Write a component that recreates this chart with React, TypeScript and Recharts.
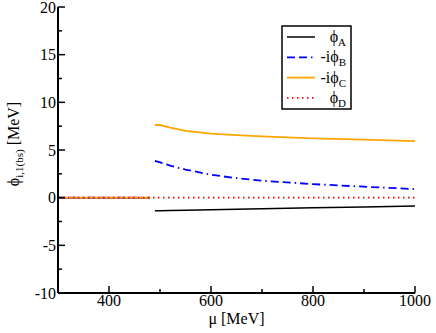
import React from 'react';
import { LineChart, Line, XAxis, YAxis, Legend } from 'recharts';

const mu = [300, 340, 380, 420, 460, 480, 485, 490, 500, 520, 550, 600, 650, 700, 800, 900, 1000];
const phiA = [0, 0, 0, 0, 0, 0, null, -1.37, -1.36, -1.35, -1.33, -1.27, -1.22, -1.17, -1.07, -0.98, -0.88];
const phiB = [0, 0, 0, 0, 0, 0, null, 3.87, 3.7, 3.35, 2.95, 2.4, 2.05, 1.78, 1.42, 1.15, 0.9];
const phiC = [0, 0, 0, 0, 0, 0, null, 7.62, 7.62, 7.35, 7.0, 6.72, 6.55, 6.42, 6.22, 6.08, 5.94];
const phiD = [0, 0, 0, 0, 0, 0, 0, 0, 0, 0, 0, 0, 0, 0, 0, 0, 0];

const xMajor = [400, 600, 800, 1000];
const xMinor = [500, 700, 900];
const yMajor = [-10, -5, 0, 5, 10, 15, 20];
const yMinor = [-7.5, -2.5, 2.5, 7.5, 12.5, 17.5];

const data = mu.map((m, i) => ({ mu: m, A: phiA[i], B: phiB[i], C: phiC[i], D: phiD[i] }));

const series = [
  { key: 'A', prefix: '\u03D5', sub: 'A', color: '#000000', dash: undefined as string | undefined, width: 1.5 },
  { key: 'B', prefix: '-i\u03D5', sub: 'B', color: '#0000ff', dash: '8 4 8 4 1.5 4', width: 1.8 },
  { key: 'C', prefix: '-i\u03D5', sub: 'C', color: '#ffa500', dash: undefined, width: 1.8 },
  { key: 'D', prefix: '\u03D5', sub: 'D', color: '#ff0000', dash: '1.5 3.5', width: 1.8 },
];

const FONT_STYLE = { fontFamily: "'Liberation Serif', serif" };
const MAJ = 7;
const MIN = 4;

const BottomTick = (p: any) => {
  const v = p.payload.value;
  const major = xMajor.includes(v);
  return (
    <g>
      <line x1={p.x} x2={p.x} y1={p.y} y2={p.y - (major ? MAJ : MIN)} stroke="#000" strokeWidth={1.5} />
      {major && (
        <text x={p.x} y={p.y + 13} textAnchor="middle" fontSize={16} style={FONT_STYLE} fill="#000">
          {v}
        </text>
      )}
    </g>
  );
};
const TopTick = (p: any) => {
  const major = xMajor.includes(p.payload.value);
  return <line x1={p.x} x2={p.x} y1={p.y} y2={p.y + (major ? MAJ : MIN)} stroke="#000" strokeWidth={1.5} />;
};
const LeftTick = (p: any) => {
  const v = p.payload.value;
  const major = yMajor.includes(v);
  return (
    <g>
      <line x1={p.x} x2={p.x + (major ? MAJ : MIN)} y1={p.y} y2={p.y} stroke="#000" strokeWidth={1.5} />
      {major && (
        <text x={p.x - 2} y={p.y + 5.5} textAnchor="end" fontSize={16} style={FONT_STYLE} fill="#000">
          {v}
        </text>
      )}
    </g>
  );
};
const RightTick = (p: any) => {
  const major = yMajor.includes(p.payload.value);
  return <line x1={p.x} x2={p.x - (major ? MAJ : MIN)} y1={p.y} y2={p.y} stroke="#000" strokeWidth={1.5} />;
};

const XLabel = (p: any) => {
  const vb = p.viewBox || {};
  const cx = vb.x + vb.width / 2;
  return (
    <text x={cx} y={vb.y + 31} textAnchor="middle" fontSize={16} style={FONT_STYLE} fill="#000">
      {'\u03BC [MeV]'}
    </text>
  );
};
const YLabel = (p: any) => {
  const vb = p.viewBox || {};
  const cx = 19;
  const cy = vb.y + vb.height / 2 - 6;
  return (
    <text x={cx} y={cy} transform={`rotate(-90, ${cx}, ${cy})`} textAnchor="middle" fontSize={16} style={FONT_STYLE} fill="#000">
      {'\u03D5'}
      <tspan fontSize={11} dy={4}>i,1(bs)</tspan>
      <tspan dy={-4}>{' [MeV]'}</tspan>
    </text>
  );
};

const LegendBox = () => (
  <svg width={72} height={86} style={{ display: 'block' }}>
    <rect x={1} y={1} width={69} height={83} fill="#fff" stroke="#000" strokeWidth={1.5} />
    {series.map((s, i) => {
      const y = 12 + i * 20.3;
      return (
        <g key={s.key}>
          <line x1={6} x2={34} y1={y} y2={y} stroke={s.color} strokeWidth={s.width} strokeDasharray={s.dash} />
          <text x={65} y={y + 5} textAnchor="end" fontSize={16} style={FONT_STYLE} fill="#000">
            {s.prefix}
            <tspan fontSize={11} dy={4}>{s.sub}</tspan>
          </text>
        </g>
      );
    })}
  </svg>
);

export default function App() {
  return (
    <div style={{ position: 'absolute', left: 0, top: 0, width: 436, height: 333, background: '#fff' }}>
      <LineChart width={436} height={333} data={data} margin={{ top: 7, right: 21, bottom: 0, left: 0 }}>
        <XAxis
          dataKey="mu"
          type="number"
          domain={[300, 1000]}
          ticks={[...xMinor, ...xMajor]}
          interval={0}
          tick={<BottomTick />}
          tickLine={false}
          tickSize={0}
          tickMargin={0}
          height={40}
          axisLine={{ stroke: '#000', strokeWidth: 2 }}
          allowDataOverflow
          label={<XLabel />}
        />
        <XAxis
          xAxisId="top"
          orientation="top"
          dataKey="mu"
          type="number"
          domain={[300, 1000]}
          ticks={[...xMinor, ...xMajor]}
          interval={0}
          tick={<TopTick />}
          tickLine={false}
          tickSize={0}
          tickMargin={0}
          height={0}
          axisLine={{ stroke: '#000', strokeWidth: 2 }}
          allowDataOverflow
        />
        <YAxis
          type="number"
          domain={[-10, 20]}
          ticks={[...yMinor, ...yMajor]}
          interval={0}
          tick={<LeftTick />}
          tickLine={false}
          tickSize={0}
          tickMargin={0}
          width={58}
          axisLine={{ stroke: '#000', strokeWidth: 2 }}
          allowDataOverflow
          label={<YLabel />}
        />
        <YAxis
          yAxisId="right"
          orientation="right"
          type="number"
          domain={[-10, 20]}
          ticks={[...yMinor, ...yMajor]}
          interval={0}
          tick={<RightTick />}
          tickLine={false}
          tickSize={0}
          tickMargin={0}
          width={0}
          axisLine={{ stroke: '#000', strokeWidth: 2 }}
          allowDataOverflow
        />
        {series.map((s) => (
          <Line
            key={s.key}
            dataKey={s.key}
            stroke={s.color}
            strokeWidth={s.width}
            strokeDasharray={s.dash}
            dot={false}
            activeDot={false}
            type="linear"
            connectNulls={false}
            isAnimationActive={false}
          />
        ))}
        <Legend
          layout="vertical"
          align="center"
          verticalAlign="middle"
          content={() => <LegendBox />}
          wrapperStyle={{ position: 'absolute', left: 281, top: 25, width: 72, height: 86 }}
        />
      </LineChart>
    </div>
  );
}
